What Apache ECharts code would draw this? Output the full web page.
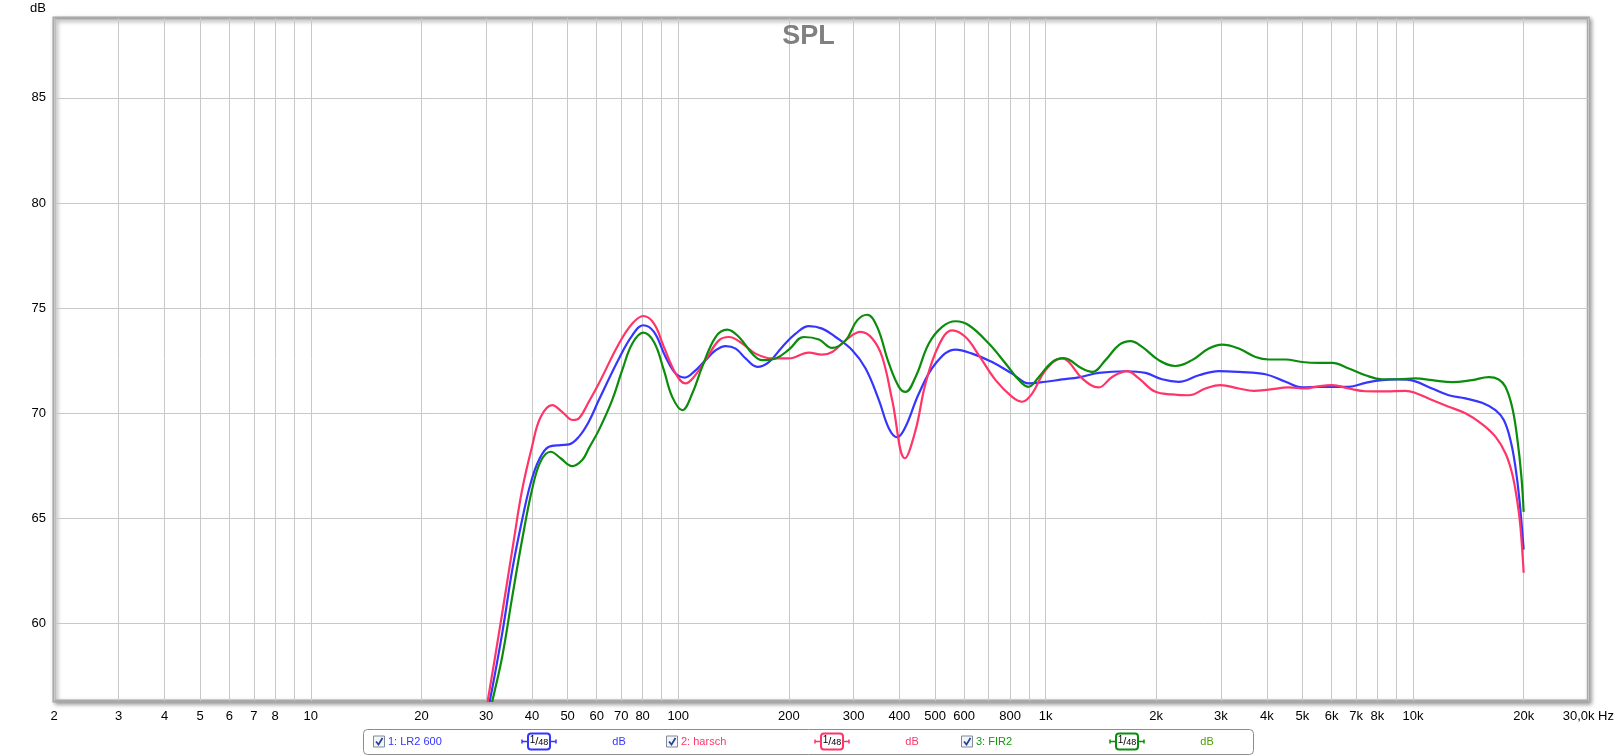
<!DOCTYPE html>
<html><head><meta charset="utf-8">
<script src="https://cdn.jsdelivr.net/npm/echarts@6/dist/echarts.min.js"></script>
<style>html,body{margin:0;padding:0;background:#fff}#c{width:1617px;height:756px}</style>
</head><body><div id="c"></div>
<script>
// ---- data (frequency in Hz, level in dB) ----
const lr2Freq = [28,30.7,33.2,35.35,37.6,39.66,41.78,44.47,47.86,50.42,53.7,57.1,60.8,69,75,80.3,85.9,92.4,98.4,104.3,110.3,118.7,126.4,134.6,143.3,152.5,164.1,176.5,191.9,208.7,226.8,246.5,268.1,297.6,323.6,351.7,374.5,394.4,415.6,451.9,501.7,568.6,631,715,810.6,900,999,1109,1231,1395,1650,1870,2075,2304,2612,2960,3356,3965,4497,4989,5539,6022,6683,7421,8234,9144,10045,11265,12508,13885,15410,16760,17660,18410,18990,19480,20000];
const lr2Db   = [53.0,56.3,59.54,62.55,64.92,66.66,67.77,68.4,68.48,68.51,68.88,69.59,70.62,72.6,73.7,74.18,73.86,72.67,71.88,71.69,71.96,72.52,72.99,73.19,73.07,72.6,72.2,72.43,73.15,73.78,74.14,74.02,73.62,72.99,72.12,70.62,69.27,68.85,69.35,70.93,72.36,73.02,72.83,72.43,71.88,71.41,71.49,71.6,71.7,71.91,71.99,71.91,71.61,71.49,71.8,72.0,71.96,71.85,71.49,71.22,71.25,71.25,71.25,71.44,71.57,71.6,71.53,71.17,70.85,70.7,70.49,70.14,69.67,68.72,67.45,65.87,63.5];

const harschFreq = [28,30.3,33.2,35.7,37.6,40,42.2,45.4,48.3,51.7,53.7,57.1,60.8,69,75,80.3,85.9,91.4,98.4,104.7,110.3,118.7,129,137.4,149.4,162.4,180.3,200,226.8,246,262.4,285.5,313.6,337.3,359.1,382.2,414,442.6,471.1,512.2,556.8,605.3,658.1,730.9,810.6,863,919,999,1109,1156,1257,1395,1517,1667,1793,1991,2210,2453,2724,2991,3356,3686,4050,4590,5095,5425,6022,6683,7421,8413,9535,10150,11265,12508,13885,15410,16760,17840,18600,19190,19600,20000];
const harschDb   = [52.9,56.3,60.5,63.97,66.35,68.4,69.8,70.38,70.06,69.67,69.75,70.54,71.41,73.31,74.26,74.62,74.26,73.15,71.88,71.41,71.72,72.52,73.46,73.62,73.31,72.83,72.6,72.6,72.88,72.78,72.91,73.46,73.86,73.55,72.67,70.62,67.85,69.19,71.41,73.23,73.94,73.62,72.75,71.57,70.77,70.54,70.93,72.04,72.6,72.43,71.65,71.22,71.72,72.0,71.65,71.01,70.89,70.85,71.17,71.33,71.17,71.06,71.12,71.22,71.17,71.25,71.33,71.17,71.04,71.03,71.06,70.96,70.62,70.3,69.99,69.48,68.88,68.09,67.14,65.87,64.6,62.4];

const fir2Freq = [28,31.2,33.2,35.35,37.6,40,42.2,44.96,47.86,51.45,54.8,57.1,60.8,66.1,70.4,75,80.3,85.9,91.4,96.3,102.5,109.2,116.2,126.4,135.9,146.3,159,169.3,184.1,200,219.8,241.5,262.4,285.5,306.9,326.9,347.9,374.5,398.6,415.6,442.6,481,522.9,568.6,618,700.5,778,845.5,896.3,958.4,1041,1121,1156,1257,1339,1455,1582,1702,1831,2032,2257,2503,2780,3022,3356,3726,4050,4497,4989,5539,6022,6683,7421,8234,9144,10150,11265,12770,14480,16070,17110,17840,18600,19190,19720,20000];
const fir2Db   = [52.6,56.3,58.43,61.28,63.97,66.35,67.69,68.16,67.85,67.48,67.77,68.32,69.19,70.62,72.04,73.31,73.83,73.38,72.04,70.77,70.14,70.93,72.2,73.62,73.97,73.62,72.83,72.52,72.6,73.02,73.62,73.5,73.1,73.46,74.41,74.68,74.1,72.36,71.25,71.01,71.72,73.31,74.1,74.37,74.18,73.31,72.36,71.57,71.25,71.72,72.43,72.62,72.55,72.12,71.96,72.52,73.23,73.42,73.15,72.52,72.24,72.52,73.07,73.26,73.07,72.67,72.55,72.55,72.43,72.39,72.39,72.12,71.8,71.61,71.61,71.65,71.57,71.47,71.57,71.71,71.6,71.25,70.3,68.88,66.98,65.3];

const seriesNames = ['1: LR2 600', '2: harsch', '3: FIR2'];

// ---- axis ticks / labels ----
const xGridFreqs = [2,3,4,5,6,7,8,9,10,20,30,40,50,60,70,80,90,100,200,300,400,500,600,700,800,900,1000,2000,3000,4000,5000,6000,7000,8000,9000,10000,20000,30000];
const xLabelFreqs = [2,3,4,5,6,7,8,10,20,30,40,50,60,70,80,100,200,300,400,500,600,800,1000,2000,3000,4000,5000,6000,7000,8000,10000,20000,30000];
const xLabelTexts = ['2','3','4','5','6','7','8','10','20','30','40','50','60','70','80','100','200','300','400','500','600','800','1k','2k','3k','4k','5k','6k','7k','8k','10k','20k','30,0k Hz'];
const yTicks = [60,65,70,75,80,85];
const xMinFreq = 2, xMaxFreq = 30000, yMin = 56.3, yMax = 88.8;

// ---- styling ----
const lineColors = ['#3535ff', '#ff3468', '#0c8c0c'];
const textColors = ['#3535ff', '#ff3468', '#14960a'];
const dbColors = ['#3535ff', '#ff3468', '#4ea000'];
const FONT = '"Liberation Sans", Arial, sans-serif';

function toPts(fr, db) { return fr.map((f, i) => [Math.log10(f), db[i]]); }
const dataSets = [toPts(lr2Freq, lr2Db), toPts(harschFreq, harschDb), toPts(fir2Freq, fir2Db)];

function xFormatter(v) {
  for (let i = 0; i < xLabelFreqs.length; i++) {
    if (Math.abs(Math.log10(xLabelFreqs[i]) - v) < 1e-7) return xLabelTexts[i];
  }
  return '';
}

// ---- legend (graphic) ----
const legendGraphics = [];
legendGraphics.push({
  type: 'rect', left: 363, top: 729, shape: { width: 890, height: 25, r: 4 },
  style: { fill: '#fff', stroke: '#8c8c8c', lineWidth: 1 }, z: 10
});
const itemX = [373, 666, 961];
const cy = 741.5;
seriesNames.forEach((nm, i) => {
  const x0 = itemX[i];
  legendGraphics.push({ type: 'rect', shape: { x: x0 + 0.5, y: cy - 5.5, width: 11, height: 11 },
    style: { fill: '#f2f4f7', stroke: '#7f8a96', lineWidth: 1 }, z: 11 });
  legendGraphics.push({ type: 'polyline', shape: { points: [[x0 + 3, cy], [x0 + 5.5, cy + 3], [x0 + 9.5, cy - 3.5]] },
    style: { stroke: '#23409a', lineWidth: 1.7, fill: null }, z: 12 });
  legendGraphics.push({ type: 'text', x: x0 + 15, y: cy, style: { text: nm, fill: textColors[i], font: '11px ' + FONT, verticalAlign: 'middle', align: 'left' }, z: 12 });
  const sx = x0 + 166;
  legendGraphics.push({ type: 'line', shape: { x1: sx - 17, y1: cy, x2: sx + 17, y2: cy }, style: { stroke: lineColors[i], lineWidth: 1.5 }, z: 11 });
  legendGraphics.push({ type: 'line', shape: { x1: sx - 17, y1: cy - 2, x2: sx - 17, y2: cy + 2 }, style: { stroke: lineColors[i], lineWidth: 1.5 }, z: 11 });
  legendGraphics.push({ type: 'line', shape: { x1: sx + 17, y1: cy - 2, x2: sx + 17, y2: cy + 2 }, style: { stroke: lineColors[i], lineWidth: 1.5 }, z: 11 });
  legendGraphics.push({ type: 'rect', shape: { x: sx - 11, y: cy - 8, width: 22, height: 16, r: 3 },
    style: { fill: '#fff', stroke: lineColors[i], lineWidth: 2 }, z: 12 });
  legendGraphics.push({ type: 'text', x: sx, y: cy, z: 13, style: {
    text: '{a|1}{b|/}{c|48}', align: 'center', verticalAlign: 'middle',
    rich: { a: { font: '10px ' + FONT, fill: '#000', padding: [0, 0, 3, 0] }, b: { font: '11px ' + FONT, fill: '#000' }, c: { font: '9px ' + FONT, fill: '#000', padding: [3, 0, 0, 0] } } } });
  legendGraphics.push({ type: 'text', x: x0 + 246, y: cy, style: { text: 'dB', fill: dbColors[i], font: '11px ' + FONT, verticalAlign: 'middle', align: 'center' }, z: 12 });
});

const chart = echarts.init(document.getElementById('c'), null, { renderer: 'canvas' });
chart.setOption({
  animation: false,
  backgroundColor: '#fff',
  title: { text: 'SPL', left: 'center', top: 23, padding: 0, z: 20,
    textStyle: { fontSize: 27, fontWeight: 'bold', color: '#808080', fontFamily: FONT } },
  grid: { left: 54, right: 26, top: 18, bottom: 55, show: true, backgroundColor: '#fff',
    borderColor: '#a8a8a8', borderWidth: 3, shadowColor: 'rgba(0,0,0,0.35)', shadowBlur: 4, shadowOffsetX: 2, shadowOffsetY: 2 },
  xAxis: {
    type: 'value', min: Math.log10(xMinFreq), max: Math.log10(xMaxFreq),
    axisLine: { show: false }, axisTick: { show: false, customValues: xGridFreqs.map(f => Math.log10(f)) },
    splitLine: { show: true, lineStyle: { color: '#c8c8c8', width: 1 } },
    axisLabel: { customValues: xLabelFreqs.map(f => Math.log10(f)), formatter: xFormatter, margin: 9,
      color: '#000', fontSize: 13, fontFamily: FONT, showMinLabel: true, showMaxLabel: true, hideOverlap: false }
  },
  yAxis: {
    type: 'value', min: yMin, max: yMax, name: 'dB', nameLocation: 'end', nameGap: 3,
    nameTextStyle: { color: '#000', fontSize: 13, fontFamily: FONT, align: 'right', padding: [0, 8, 0, 0] },
    axisLine: { show: false }, axisTick: { show: false, customValues: yTicks },
    splitLine: { show: true, lineStyle: { color: '#c8c8c8', width: 1 } },
    axisLabel: { customValues: yTicks, margin: 8, color: '#000', fontSize: 13, fontFamily: FONT }
  },
  series: seriesNames.map((nm, i) => ({
    name: nm, type: 'line', data: dataSets[i], showSymbol: false, smooth: 0.4, clip: true,
    lineStyle: { color: lineColors[i], width: 2.2 }, itemStyle: { color: lineColors[i] }, z: 3 + i
  })),
  graphic: legendGraphics
});
</script></body></html>
